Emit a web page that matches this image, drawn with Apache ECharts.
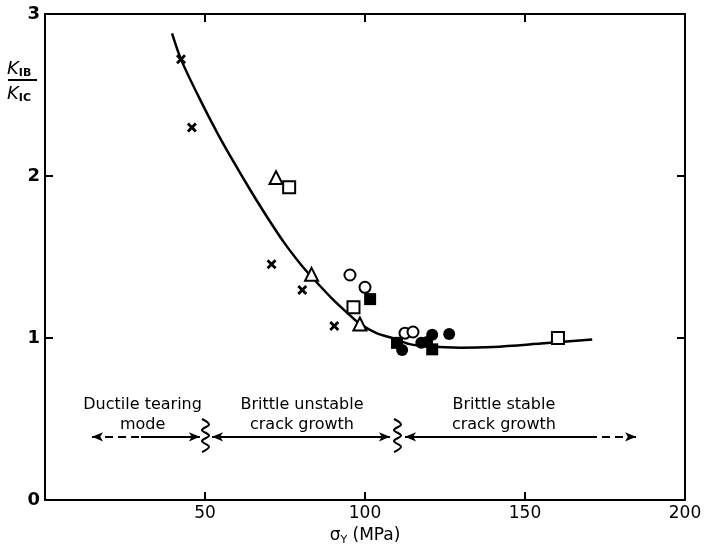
<!DOCTYPE html>
<html>
<head>
<meta charset="utf-8">
<script src="https://cdn.jsdelivr.net/npm/echarts@6/dist/echarts.min.js"></script>
<style>
  html, body { margin: 0; background: #fff; }
  #main { width: 706px; height: 551px; }
</style>
</head>
<body>
<div id="main"></div>
<script>
// KIB/KIC against yield stress
var fitCurve = [[39.7,2.88],[42.5,2.72],[48,2.49],[54,2.26],[59,2.085],[64.1,1.915],[69.3,1.75],[74.5,1.595],[79.7,1.46],[83.3,1.378],[90.1,1.235],[95.3,1.14],[98.4,1.087],[103.6,1.03],[108.8,0.998],[114,0.962],[120,0.947],[130,0.94],[140,0.945],[155,0.966],[171,0.99]];
var crosses = [[42.5,2.72],[45.9,2.30],[70.8,1.455],[80.4,1.296],[90.4,1.074]];
var openTriangles = [[72.2,1.99],[83.3,1.393],[98.4,1.086]];
var openSquares = [[76.3,1.93],[96.4,1.19],[160.3,1.0]];
var filledSquares = [[101.6,1.24],[110,0.97],[121,0.93]];
var openCircles = [[95.3,1.389],[100,1.313],[112.5,1.03],[115,1.037]];
var filledCircles = [[111.6,0.926],[117.6,0.97],[119.4,0.975],[121,1.02],[126.3,1.025]];

// regime labels and arrows (x in MPa, y in ratio units)
var regionLabels = ['Ductile tearing\nmode', 'Brittle unstable\ncrack growth', 'Brittle stable\ncrack growth'];
var regionCentres = [30.5, 80.3, 143.4];
var arrowY = 0.39;
var solidArrows = [[30, 48.4, 'none', 'arrow'], [52.2, 107.8, 'arrow', 'arrow'], [112.5, 170, 'arrow', 'none']];
var dashedArrows = [[14.7, 30, 'arrow', 'none'], [170, 184.7, 'none', 'arrow']];
var breaks = [50, 110];

var FONT = 'DejaVu Sans';
var crossPath = 'path://M2,0L5,3L8,0L10,2L7,5L10,8L8,10L5,7L2,10L0,8L3,5L0,2Z';

var myChart = echarts.init(document.getElementById('main'));

function scatter(data, symbol, size, filled) {
  return {
    type: 'scatter',
    data: data,
    symbol: symbol,
    symbolSize: size,
    z: 5,
    itemStyle: filled
      ? { color: '#000', borderColor: '#000', borderWidth: 0, opacity: 1 }
      : { color: '#fff', borderColor: '#000', borderWidth: 2, opacity: 1 }
  };
}

var markLines = [];
solidArrows.forEach(function (a) {
  markLines.push([
    { coord: [a[0], arrowY], symbol: a[2], lineStyle: { type: 'solid' } },
    { coord: [a[1], arrowY], symbol: a[3] }
  ]);
});
dashedArrows.forEach(function (a) {
  markLines.push([
    { coord: [a[0], arrowY], symbol: a[2], lineStyle: { type: [8, 5] } },
    { coord: [a[1], arrowY], symbol: a[3] }
  ]);
});

var axisLine = { show: true, onZero: false, lineStyle: { color: '#000', width: 2 } };
var tickIn = { show: true, inside: true, length: 8, lineStyle: { color: '#000', width: 2 } };

myChart.setOption({
  animation: false,
  backgroundColor: '#fff',
  grid: { left: 45, right: 21, top: 14, bottom: 51 },
  xAxis: [{
    type: 'value', min: 0, max: 200, interval: 50,
    axisLine: axisLine, axisTick: tickIn, splitLine: { show: false },
    axisLabel: {
      color: '#000', fontFamily: FONT, fontSize: 17, margin: 5,
      formatter: function (v) { return v === 0 ? '' : v; }
    },
    name: '{s|σ}{sub|Y}{s| (MPa)}',
    nameLocation: 'middle', nameGap: 25,
    nameTextStyle: {
      rich: {
        s: { fontFamily: FONT, fontSize: 17, color: '#000' },
        sub: { fontFamily: FONT, fontSize: 11, color: '#000', verticalAlign: 'bottom', padding: [9, 0, 0, 0] }
      }
    }
  }, {
    type: 'value', min: 0, max: 200, interval: 50, position: 'top',
    axisLine: axisLine, axisTick: tickIn, axisLabel: { show: false }, splitLine: { show: false }
  }],
  yAxis: [{
    type: 'value', min: 0, max: 3, interval: 1,
    axisLine: axisLine, axisTick: tickIn, splitLine: { show: false },
    axisLabel: { color: '#000', fontFamily: FONT, fontSize: 18, fontWeight: 'bold', margin: 5 }
  }, {
    type: 'value', min: 0, max: 3, interval: 1, position: 'right',
    axisLine: axisLine, axisTick: tickIn, axisLabel: { show: false }, splitLine: { show: false }
  }],
  series: [
    {
      type: 'line', data: fitCurve, smooth: 0.3, symbol: 'none', z: 3,
      lineStyle: { color: '#000', width: 2.5 },
      markLine: {
        silent: true, symbolSize: [7, 11], label: { show: false },
        lineStyle: { color: '#000', width: 2 },
        data: markLines
      }
    },
    scatter(crosses, crossPath, 10, true),
    scatter(openTriangles, 'triangle', 13, false),
    scatter(openSquares, 'rect', 12, false),
    scatter(filledSquares, 'rect', 12, true),
    scatter(openCircles, 'circle', 11, false),
    scatter(filledCircles, 'circle', 12, true)
  ]
});

// text, y-axis title and axis-break squiggles
function px(x, y) { return myChart.convertToPixel({ gridIndex: 0 }, [x, y]); }

var graphics = [];
regionLabels.forEach(function (t, i) {
  var p = px(regionCentres[i], 0.527);
  graphics.push({
    type: 'text', x: p[0], y: p[1],
    style: { text: t, fontFamily: FONT, fontSize: 16, fill: '#000', align: 'center', verticalAlign: 'middle', lineHeight: 20 }
  });
});
breaks.forEach(function (b) {
  var top = px(b, 0.5), bot = px(b, 0.296);
  var pts = [], n = 6;
  for (var k = 0; k <= n; k++) {
    var yy = top[1] + (bot[1] - top[1]) * k / n;
    pts.push([top[0] + (k % 2 ? 4 : -3), yy]);
  }
  graphics.push({ type: 'polyline', shape: { points: pts, smooth: 0.4 }, style: { stroke: '#000', lineWidth: 2, fill: null } });
});
var kRich = {
  k: { fontFamily: FONT, fontSize: 18, fontStyle: 'italic', fill: '#000' },
  s: { fontFamily: FONT, fontSize: 11, fontWeight: 'bold', fill: '#000', padding: [9, 0, 0, 0] }
};
graphics.push(
  { type: 'text', x: 7, y: 59, style: { text: '{k|K}{s|IB}', rich: kRich } },
  { type: 'line', shape: { x1: 8, y1: 80, x2: 37, y2: 80 }, style: { stroke: '#000', lineWidth: 2 } },
  { type: 'text', x: 7, y: 84, style: { text: '{k|K}{s|IC}', rich: kRich } }
);
myChart.setOption({ graphic: graphics });
</script>
</body>
</html>
